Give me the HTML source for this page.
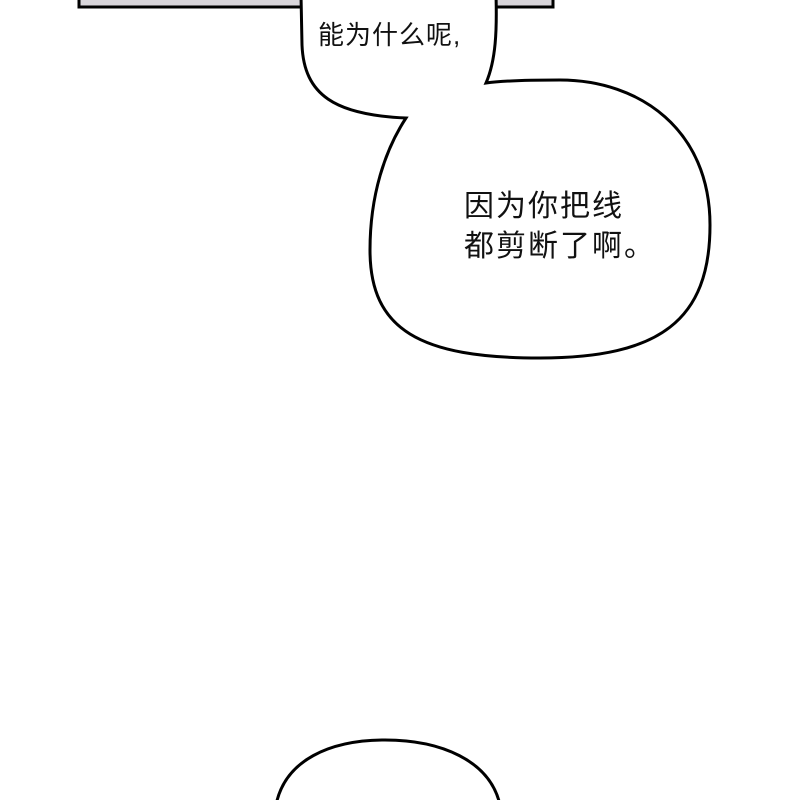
<!DOCTYPE html>
<html><head><meta charset="utf-8"><style>
html,body{margin:0;padding:0;background:#fff;}
body{width:800px;height:800px;position:relative;overflow:hidden;}
svg{position:absolute;left:0;top:0;}
.t{position:absolute;font-family:"Liberation Sans","Noto Sans CJK SC",sans-serif;color:#111;white-space:nowrap;}
</style></head><body>
<svg width="800" height="800" viewBox="0 0 800 800">
<rect x="79" y="-10" width="474" height="17" fill="#d8d5da" stroke="#000" stroke-width="3"/>
<path d="M301,-5 L302,45 C304,95 335,115 406,118 C385,150 370,195 370,250 C370,330 420,358 540,358 C660,358 710,320 710,225 C710,130 640,80 560,80 C520,80 500,81 486,83 C496,60 497,30 496,-5 Z" fill="#fff" stroke="#000" stroke-width="3" stroke-linejoin="miter"/>
<path d="M276,805 C285,760 330,740 385,740 C440,740 490,760 500,805" fill="#fff" stroke="#000" stroke-width="3"/>
</svg>
<div class="t" style="left:318px;top:15px;font-size:26px;letter-spacing:1px;">能为什么呢,</div>
<div class="t" style="left:464px;top:187px;font-size:30px;line-height:40px;letter-spacing:2px;">因为你把线<br>都剪断了啊。</div>
</body></html>
